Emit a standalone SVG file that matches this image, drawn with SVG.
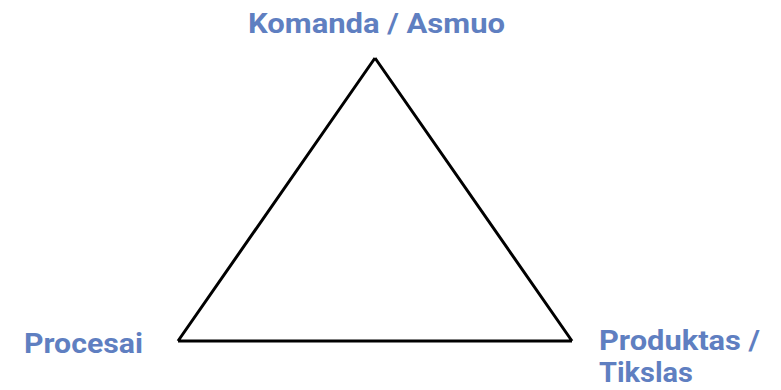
<svg xmlns="http://www.w3.org/2000/svg" width="781" height="390" viewBox="0 0 781 390">
<style>
.lbl{font-family:"Roboto","DejaVu Sans Condensed",sans-serif;font-weight:bold;font-size:28px;fill:#5f7fc1;}
.edge{stroke:#000;stroke-width:3;fill:none;stroke-linejoin:miter;}
</style>
<rect width="781" height="390" fill="#fff"/>
<g id="connectors">
<path class="edge" d="M375,58 L178,341 M178,341 L572,341 M572,341 L375,58"/>
</g>
<g id="node-komanda"><text class="lbl" x="248" y="33" textLength="257" lengthAdjust="spacingAndGlyphs">Komanda / Asmuo</text></g>
<g id="node-procesai"><text class="lbl" x="24" y="353" textLength="119" lengthAdjust="spacingAndGlyphs">Procesai</text></g>
<g id="node-produktas"><text class="lbl" x="599" y="350" textLength="161" lengthAdjust="spacingAndGlyphs">Produktas /</text><text class="lbl" x="599" y="382" textLength="94" lengthAdjust="spacingAndGlyphs">Tikslas</text></g>
</svg>
